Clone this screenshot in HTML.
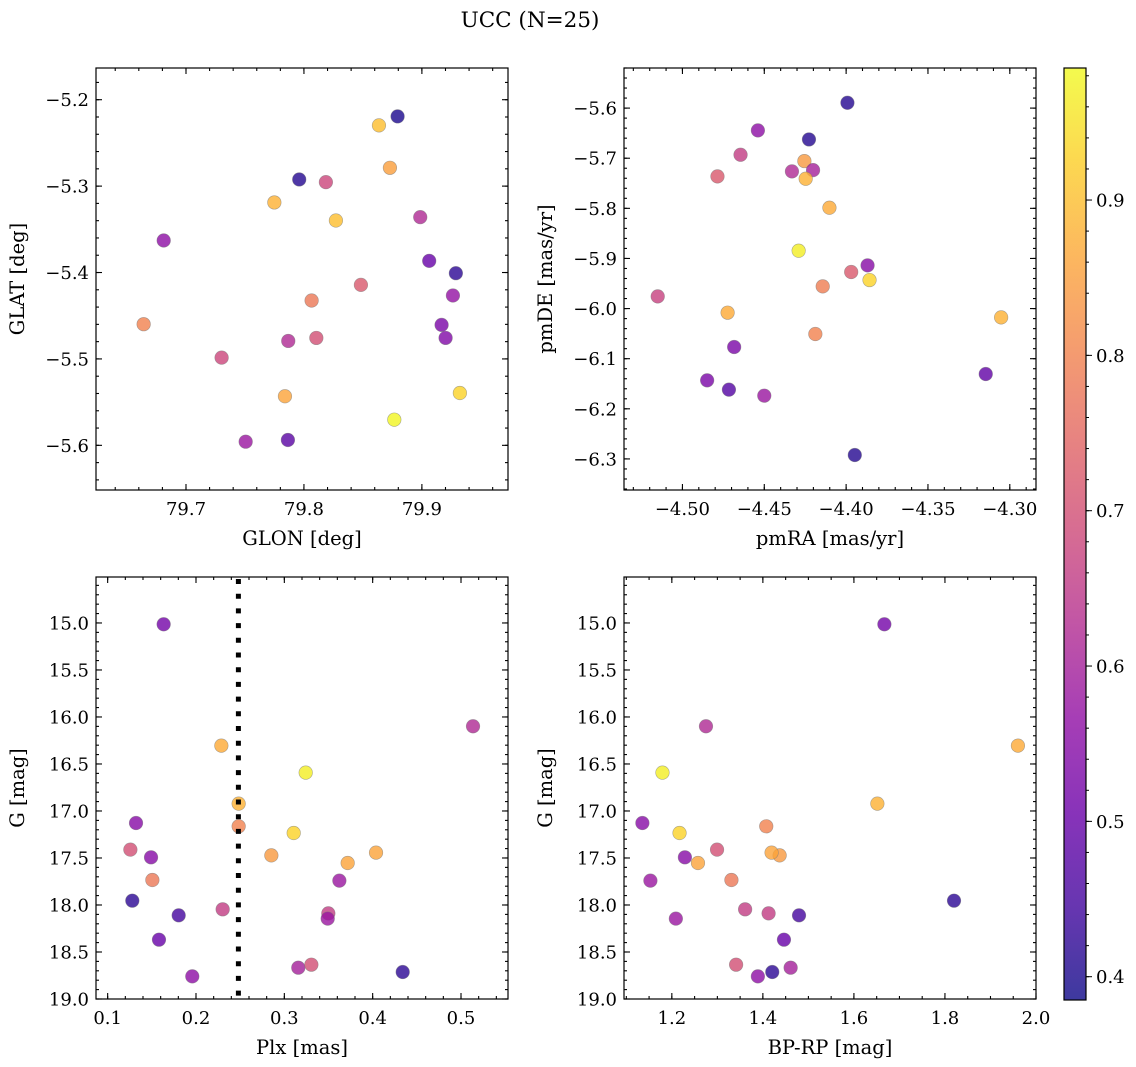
<!DOCTYPE html>
<html><head><meta charset="utf-8">
<style>
html,body{margin:0;padding:0;background:#fff;}
svg{display:block;font-family:"DejaVu Serif","Liberation Serif",serif;}
</style></head>
<body>
<svg id="fig" width="1136" height="1067" viewBox="0 0 1136 1067" xmlns="http://www.w3.org/2000/svg">
<rect x="0" y="0" width="1136" height="1067" fill="#fff"/>
<text x="530" y="27" font-size="21.5" text-anchor="middle">UCC (N=25)</text>
</svg>
<script>
// ---- data ----
const glon = [79.8794,79.8636,79.8729,79.7960,79.8186,79.7749,79.8271,79.8986,79.6811,79.9062,79.9288,79.8483,79.9263,79.8065,79.6641,79.9167,79.9201,79.8105,79.7867,79.7302,79.7839,79.9322,79.8766,79.7506,79.7864];
const glat = [-5.2193,-5.2297,-5.2788,-5.2923,-5.2954,-5.3189,-5.3398,-5.3359,-5.3629,-5.3865,-5.4008,-5.4143,-5.4266,-5.4324,-5.4598,-5.4606,-5.4757,-5.4757,-5.4792,-5.4985,-5.5432,-5.5394,-5.5703,-5.5958,-5.5938];
const colorGal = [0.40,0.90,0.85,0.41,0.68,0.88,0.90,0.62,0.56,0.50,0.42,0.72,0.57,0.78,0.80,0.53,0.54,0.70,0.62,0.68,0.86,0.93,0.98,0.58,0.48];

const pmra = [-4.3992,-4.4539,-4.4227,-4.4645,-4.4255,-4.4786,-4.4331,-4.4202,-4.4247,-4.4102,-4.4290,-4.3869,-4.3969,-4.3857,-4.4143,-4.5151,-4.4724,-4.3053,-4.4188,-4.4684,-4.3147,-4.4849,-4.4716,-4.4500,-4.3947];
const pmde = [-5.5894,-5.6445,-5.6625,-5.6931,-5.7057,-5.7363,-5.7263,-5.7237,-5.7410,-5.7988,-5.8846,-5.9138,-5.9271,-5.9431,-5.9557,-5.9757,-6.0082,-6.0176,-6.0508,-6.0767,-6.1306,-6.1432,-6.1618,-6.1738,-6.2922];
const colorPm = [0.41,0.56,0.41,0.66,0.84,0.72,0.62,0.60,0.88,0.87,0.97,0.55,0.72,0.93,0.79,0.67,0.87,0.88,0.80,0.53,0.49,0.53,0.47,0.58,0.41];

const plx = [0.1634,0.5136,0.2287,0.3242,0.2483,0.2483,0.3106,0.1321,0.1257,0.1491,0.2853,0.4038,0.3717,0.1506,0.3623,0.1279,0.1804,0.2302,0.3498,0.3491,0.1581,0.1958,0.3158,0.3306,0.4340];
const bprp = [1.6669,1.2750,1.9603,1.1794,1.6515,1.4074,1.2169,1.1353,1.2993,1.2287,1.4368,1.4191,1.2574,1.3309,1.1529,1.8199,1.4794,1.3610,1.4125,1.2088,1.4463,1.3890,1.4610,1.3412,1.4206];
const gmag = [15.014,16.099,16.305,16.592,16.922,17.163,17.234,17.128,17.411,17.493,17.472,17.443,17.553,17.734,17.741,17.954,18.110,18.046,18.089,18.145,18.369,18.759,18.667,18.635,18.713];
const colorPhot = [0.52,0.62,0.87,0.97,0.88,0.80,0.93,0.55,0.70,0.55,0.84,0.86,0.86,0.78,0.58,0.42,0.45,0.66,0.66,0.58,0.50,0.56,0.60,0.70,0.42];

const plxCut = [0.248];
const ticksGlon = [79.7,79.8,79.9];
const ticksGlat = [-5.2,-5.3,-5.4,-5.5,-5.6];
const ticksPmra = [-4.50,-4.45,-4.40,-4.35,-4.30];
const ticksPmde = [-5.6,-5.7,-5.8,-5.9,-6.0,-6.1,-6.2,-6.3];
const ticksPlx = [0.1,0.2,0.3,0.4,0.5];
const ticksBprp = [1.2,1.4,1.6,1.8,2.0];
const ticksG = [15.0,15.5,16.0,16.5,17.0,17.5,18.0,18.5,19.0];
const ticksCbar = [0.4,0.5,0.6,0.7,0.8,0.9];

// ---- helpers ----
const NS = "http://www.w3.org/2000/svg";
const svg = document.getElementById('fig');
function el(tag, attrs, parent){
  const e = document.createElementNS(NS, tag);
  for (const k in attrs) e.setAttribute(k, attrs[k]);
  (parent||svg).appendChild(e);
  return e;
}
const VMIN = 0.385, VMAX = 0.985;
const plasma = [[13,8,135],[65,4,157],[106,0,168],[143,13,164],[177,42,144],[204,71,120],[225,100,98],[242,132,75],[252,166,54],[252,206,37],[240,249,33]];
function cmap(v){
  let t = (v-VMIN)/(VMAX-VMIN); t = Math.max(0, Math.min(1, t));
  const f = t*10, i = Math.min(9, Math.floor(f)), r = f - i;
  const a = plasma[i], b = plasma[i+1];
  return 'rgb(' + [0,1,2].map(k => Math.round(a[k]+(b[k]-a[k])*r)).join(',') + ')';
}
function fmt(v, d){ return (v<0 ? '\u2212' : '') + Math.abs(v).toFixed(d); }

function panel(name, box, xlim, ylim, xs, ys, cs, xt, xd, xminor, yt, yd, yminor, xlabel, ylabel){
  const g = el('g', {});
  
  
  const X = v => box.x + (v - xlim[0])/(xlim[1]-xlim[0])*box.w;
  const Y = v => box.y + (v - ylim[0])/(ylim[1]-ylim[0])*box.h;
  const pts = el('g', {}, g);
  
  
  for (let i=0;i<xs.length;i++){
    const c = el('circle', {cx:X(xs[i]), cy:Y(ys[i]), r:6.8, fill:cmap(cs[i]), 'fill-opacity':0.8, stroke:'#777', 'stroke-opacity':0.6, 'stroke-width':0.6}, pts);
    
    
  }
  const tk = el('g', {stroke:'#000', 'stroke-width':1.1}, g);
  
  
  const xlo = Math.min(xlim[0],xlim[1]), xhi = Math.max(xlim[0],xlim[1]);
  const ylo = Math.min(ylim[0],ylim[1]), yhi = Math.max(ylim[0],ylim[1]);
  for (let k=Math.ceil(xlo/xminor-1e-6); k*xminor<=xhi+1e-9; k++){
    const px = X(k*xminor);
    el('line',{x1:px,y1:box.y+box.h,x2:px,y2:box.y+box.h-3},tk);
    el('line',{x1:px,y1:box.y,x2:px,y2:box.y+3},tk);
  }
  for (let k=Math.ceil(ylo/yminor-1e-6); k*yminor<=yhi+1e-9; k++){
    const py = Y(k*yminor);
    el('line',{x1:box.x,y1:py,x2:box.x+3,y2:py},tk);
    el('line',{x1:box.x+box.w,y1:py,x2:box.x+box.w-3,y2:py},tk);
  }
  xt.forEach(v => {
    const px = X(v);
    el('line',{x1:px,y1:box.y+box.h,x2:px,y2:box.y+box.h-6},tk);
    el('line',{x1:px,y1:box.y,x2:px,y2:box.y+6},tk);
    const t = el('text',{x:px,y:box.y+box.h+25,'font-size':18,'text-anchor':'middle'},g);
    t.textContent = fmt(v, xd);
    
    
  });
  yt.forEach(v => {
    const py = Y(v);
    el('line',{x1:box.x,y1:py,x2:box.x+6,y2:py},tk);
    el('line',{x1:box.x+box.w,y1:py,x2:box.x+box.w-6,y2:py},tk);
    const t = el('text',{x:box.x-7,y:py+6.5,'font-size':18,'text-anchor':'end'},g);
    t.textContent = fmt(v, yd);
    
    
  });
  const fr = el('rect',{x:box.x,y:box.y,width:box.w,height:box.h,fill:'none',stroke:'#000','stroke-width':1.2},g);
  
  
  const xl = el('text',{x:box.x+box.w/2,y:box.y+box.h+55,'font-size':19.5,'text-anchor':'middle'},g);
  xl.textContent = xlabel;
  
  
  const yx = box.x - 72, yy = box.y + box.h/2;
  const yl = el('text',{x:yx,y:yy,'font-size':19.5,'text-anchor':'middle',transform:'rotate(-90 '+yx+' '+yy+')'},g);
  yl.textContent = ylabel;
  
  
  return {X, Y, box, g};
}

panel('galactic-panel', {x:96,y:68,w:412,h:422}, [79.6237,79.973], [-5.1633,-5.6517], glon, glat, colorGal, ticksGlon, 1, 0.02, ticksGlat, 1, 0.02, 'GLON [deg]', 'GLAT [deg]');
panel('proper-motion-panel', {x:624,y:68,w:412,h:422}, [-4.5357,-4.284], [-5.520,-6.362], pmra, pmde, colorPm, ticksPmra, 2, 0.01, ticksPmde, 1, 0.02, 'pmRA [mas/yr]', 'pmDE [mas/yr]');
const bl = panel('parallax-panel', {x:96,y:577,w:412,h:422}, [0.0868,0.5532], [14.511,19.0], plx, gmag, colorPhot, ticksPlx, 1, 0.02, ticksG, 1, 0.1, 'Plx [mas]', 'G [mag]');
panel('cmd-panel', {x:624,y:577,w:412,h:422}, [1.0949,2.0], [14.511,19.0], bprp, gmag, colorPhot, ticksBprp, 1, 0.05, ticksG, 1, 0.1, 'BP-RP [mag]', 'G [mag]');

const dl = el('line',{x1:bl.X(plxCut[0]),y1:bl.box.y+2,x2:bl.X(plxCut[0]),y2:bl.box.y+bl.box.h,stroke:'#000','stroke-width':5,'stroke-dasharray':'5 9.7'}, bl.g);



const cb = {x:1064,y:68,w:22,h:932};
const cbg = el('g',{});


const defs = el('defs',{},cbg);
const grad = el('linearGradient',{id:'cbgrad',x1:0,y1:1,x2:0,y2:0},defs);
for (let i=0;i<=20;i++){
  const v = VMIN + (VMAX-VMIN)*i/20;
  el('stop',{offset:(i/20),'stop-color':cmap(v),'stop-opacity':0.8},grad);
}
el('rect',{x:cb.x,y:cb.y,width:cb.w,height:cb.h,fill:'url(#cbgrad)',stroke:'#000','stroke-width':1.2},cbg);
const CY = v => cb.y + (VMAX - v)/(VMAX-VMIN)*cb.h;
for (let k=Math.ceil(VMIN/0.02); k*0.02<=VMAX; k++){
  el('line',{x1:cb.x+cb.w,y1:CY(k*0.02),x2:cb.x+cb.w+3,y2:CY(k*0.02),stroke:'#000'},cbg);
}
ticksCbar.forEach(v => {
  el('line',{x1:cb.x+cb.w,y1:CY(v),x2:cb.x+cb.w+6,y2:CY(v),stroke:'#000'},cbg);
  const t = el('text',{x:cb.x+cb.w+10,y:CY(v)+6.5,'font-size':18},cbg);
  t.textContent = v.toFixed(1);
  
  
});
</script>
</body></html>
